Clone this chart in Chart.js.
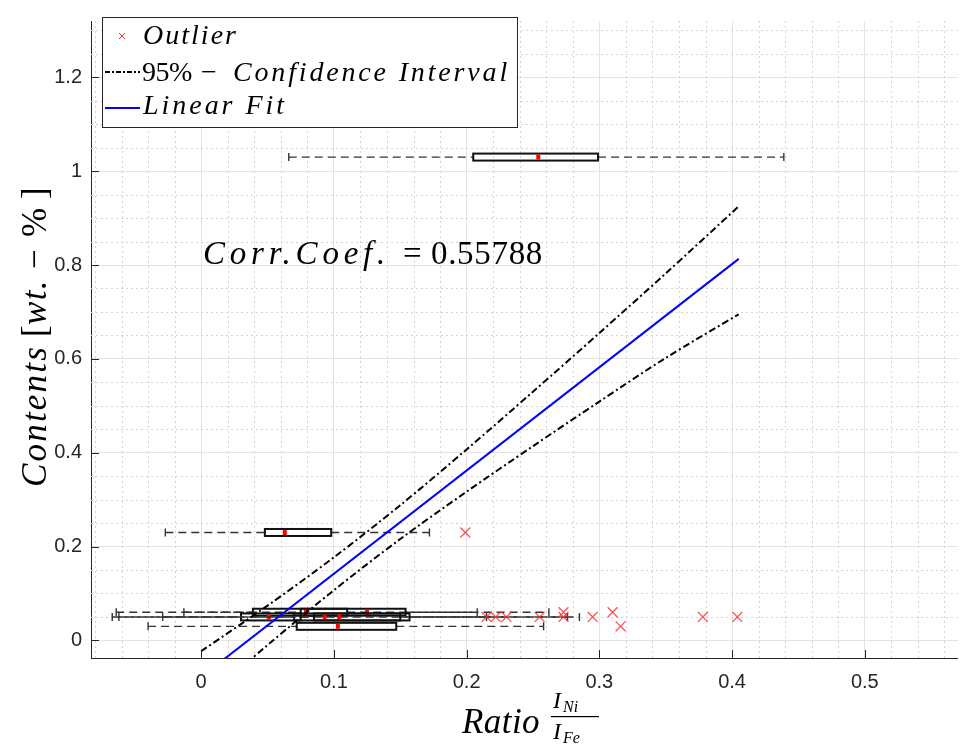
<!DOCTYPE html>
<html>
<head>
<meta charset="utf-8">
<script src="https://cdn.jsdelivr.net/npm/chart.js@4.4.0/dist/chart.umd.min.js"></script>
<style>
  html, body { margin: 0; padding: 0; background: #fff; }
  #wrap { width: 966px; height: 746px; }
</style>
</head>
<body>
<div id="wrap"><canvas id="boxChart" width="966" height="746"></canvas></div>
<script>
// outliers (red crosses)
var outlierX = [0.199, 0.215, 0.222, 0.230, 0.255, 0.273, 0.273, 0.295, 0.310, 0.316, 0.378, 0.404];
var outlierY = [0.23, 0.05, 0.05, 0.05, 0.05, 0.06, 0.05, 0.05, 0.06, 0.03, 0.05, 0.05];

// horizontal box plots: row height, whisker ends, quartiles, median
var boxY   = [1.03, 0.23, 0.06, 0.06, 0.05, 0.05, 0.05, 0.03];
var boxLo  = [0.066, -0.027, -0.064, -0.013, -0.067, -0.029, -0.062, -0.040];
var boxQ1  = [0.205, 0.048, 0.039, 0.075, 0.030, 0.070, 0.085, 0.072];
var boxMed = [0.254, 0.063, 0.079, 0.125, 0.051, 0.093, 0.104, 0.103];
var boxQ3  = [0.299, 0.098, 0.110, 0.154, 0.075, 0.157, 0.150, 0.147];
var boxHi  = [0.439, 0.172, 0.208, 0.262, 0.276, 0.285, 0.215, 0.258];

// linear fit and 95% band
var fitX = [0, 0.405];
var fitY = [-0.078, 0.813];
var bandX = [0, 0.05, 0.1, 0.15, 0.2, 0.25, 0.3, 0.35, 0.405];
var bandUpper = [-0.023, 0.074, 0.177, 0.288, 0.407, 0.530, 0.655, 0.782, 0.925];
var bandLower = [-0.133, -0.010, 0.107, 0.216, 0.317, 0.414, 0.509, 0.602, 0.695];

var xTicks = [0, 0.1, 0.2, 0.3, 0.4, 0.5];
var yTicks = [0, 0.2, 0.4, 0.6, 0.8, 1, 1.2];

var corrText = 'Corr.Coef.';
var corrValue = '0.55788';

function pts(xs, ys) {
    return xs.map(function (x, i) { return { x: x, y: ys[i] }; });
}

var axisColor = '#262626';
var serifI = function (s) { return 'italic ' + s + 'px "Liberation Serif"'; };
var serifR = function (s) { return s + 'px "Liberation Serif"'; };

// each part: [text, font, left x, width it should fill (0 = natural)]
function richText(ctx, parts, y) {
    parts.forEach(function (p) {
        ctx.font = p[1];
        ctx.letterSpacing = '0px';
        var sp = 0;
        if (p[3]) sp = (p[3] - ctx.measureText(p[0]).width) / p[0].length;
        ctx.letterSpacing = sp + 'px';
        ctx.fillText(p[0], p[2], y);
    });
    ctx.letterSpacing = '0px';
}

var matlabLook = {
    id: 'matlabLook',
    beforeDatasetsDraw: function (chart) {
        var ctx = chart.ctx, xs = chart.scales.x, ys = chart.scales.y, a = chart.chartArea;
        ctx.save();
        ctx.beginPath();
        ctx.rect(a.left, a.top, a.right - a.left, a.bottom - a.top);
        ctx.clip();

        // minor grid
        ctx.strokeStyle = '#d4d4d4';
        ctx.lineWidth = 1;
        ctx.setLineDash([2, 3]);
        for (var k = -4; k <= 28; k++) {
            if (k % 5 === 0) continue;
            var px = Math.round(xs.getPixelForValue(k * 0.02)) + 0.5;
            if (px <= a.left + 1 || px >= a.right) continue;
            ctx.beginPath(); ctx.moveTo(px, a.top); ctx.lineTo(px, a.bottom); ctx.stroke();
        }
        for (var j = 1; j <= 26; j++) {
            if (j % 4 === 0) continue;
            var py = Math.round(ys.getPixelForValue(j * 0.05)) + 0.5;
            if (py <= a.top || py >= a.bottom - 1) continue;
            ctx.beginPath(); ctx.moveTo(a.left, py); ctx.lineTo(a.right, py); ctx.stroke();
        }

        // box plots
        var h = 3.5;
        for (var i = 0; i < boxY.length; i++) {
            var y = ys.getPixelForValue(boxY[i]);
            var lo = xs.getPixelForValue(boxLo[i]), q1 = xs.getPixelForValue(boxQ1[i]);
            var md = xs.getPixelForValue(boxMed[i]), q3 = xs.getPixelForValue(boxQ3[i]);
            var hi = xs.getPixelForValue(boxHi[i]);
            ctx.strokeStyle = '#333';
            ctx.lineWidth = 1.4;
            ctx.setLineDash([8, 5]);
            ctx.beginPath();
            ctx.moveTo(lo, y); ctx.lineTo(q1, y);
            ctx.moveTo(q3, y); ctx.lineTo(hi, y);
            ctx.stroke();
            ctx.setLineDash([]);
            ctx.beginPath();
            ctx.moveTo(lo, y - 4); ctx.lineTo(lo, y + 4);
            ctx.moveTo(hi, y - 4); ctx.lineTo(hi, y + 4);
            ctx.stroke();
            ctx.lineWidth = 2;
            ctx.strokeStyle = '#111';
            ctx.strokeRect(q1, y - h, q3 - q1, 2 * h);
            ctx.fillStyle = '#ff0000';
            ctx.fillRect(md - 2, y - 2.5, 4, 5);
        }
        ctx.restore();
    },
    afterDraw: function (chart) {
        var ctx = chart.ctx, xs = chart.scales.x, ys = chart.scales.y, a = chart.chartArea;
        ctx.save();

        // inward tick marks
        ctx.strokeStyle = axisColor;
        ctx.lineWidth = 1;
        xTicks.forEach(function (v) {
            var px = Math.round(xs.getPixelForValue(v)) + 0.5;
            ctx.beginPath(); ctx.moveTo(px, a.bottom); ctx.lineTo(px, a.bottom - 8); ctx.stroke();
        });
        yTicks.forEach(function (v) {
            var py = Math.round(ys.getPixelForValue(v)) + 0.5;
            ctx.beginPath(); ctx.moveTo(a.left, py); ctx.lineTo(a.left + 8, py); ctx.stroke();
        });

        // legend box
        ctx.fillStyle = '#fff';
        ctx.fillRect(102, 17, 415, 110);
        ctx.strokeStyle = axisColor;
        ctx.lineWidth = 1;
        ctx.strokeRect(102.5, 17.5, 415, 110);
        ctx.strokeStyle = '#ff3030';
        ctx.beginPath();
        ctx.moveTo(119, 33); ctx.lineTo(125, 39);
        ctx.moveTo(125, 33); ctx.lineTo(119, 39);
        ctx.stroke();
        ctx.strokeStyle = '#000';
        ctx.lineWidth = 2;
        ctx.setLineDash([5, 2, 2, 2]);
        ctx.beginPath(); ctx.moveTo(105, 72); ctx.lineTo(140, 72); ctx.stroke();
        ctx.setLineDash([]);
        ctx.strokeStyle = '#0000ff';
        ctx.beginPath(); ctx.moveTo(105, 108); ctx.lineTo(140, 108); ctx.stroke();

        ctx.fillStyle = '#000';
        ctx.textBaseline = 'alphabetic';
        ctx.textAlign = 'left';
        richText(ctx, [['Outlier', serifI(28), 143, 95]], 44);
        richText(ctx, [['95%', serifR(28), 142, 50], ['\u2212', serifR(28), 201, 0],
                       ['Confidence Interval', serifI(28), 233, 277]], 81);
        richText(ctx, [['Linear Fit', serifI(28), 143, 144]], 114);

        // correlation annotation
        richText(ctx, [[corrText, serifI(33), 203, 187], ['=', serifR(33), 403, 0],
                       [corrValue, serifR(33), 431, 112]], 264);

        // x-axis title
        richText(ctx, [['Ratio', serifI(35), 462, 78]], 733);
        richText(ctx, [['I', serifI(24), 553, 0]], 708);
        richText(ctx, [['Ni', serifI(16), 563, 0]], 712);
        ctx.fillRect(551, 716, 48, 1.2);
        richText(ctx, [['I', serifI(24), 553, 0]], 739);
        richText(ctx, [['Fe', serifI(16), 563, 0]], 743);

        // y-axis title, written bottom to top
        ctx.translate(46, 487);
        ctx.rotate(-Math.PI / 2);
        richText(ctx, [['Contents', serifI(35), 0, 142], ['[', serifR(35), 150, 0],
                       ['wt.', serifI(35), 162, 46], ['\u2212', serifR(35), 218, 0],
                       ['%', serifR(35), 250, 0], [']', serifR(35), 288, 0]], 0);
        ctx.restore();
    }
};

var ctx = document.getElementById('boxChart').getContext('2d');
var boxChart = new Chart(ctx, {
    type: 'scatter',
    data: {
        datasets: [{
            label: 'Outlier',
            data: pts(outlierX, outlierY),
            pointStyle: 'crossRot',
            pointRadius: 7,
            pointHoverRadius: 7,
            borderColor: 'rgba(255, 40, 40, 0.8)',
            pointBorderWidth: 1.3,
            showLine: false
        }, {
            label: '95% - Confidence Interval',
            data: pts(bandX, bandUpper),
            showLine: true,
            borderColor: '#000',
            borderWidth: 2,
            borderDash: [7, 3, 2, 3],
            pointRadius: 0,
            tension: 0.3
        }, {
            label: 'lower',
            data: pts(bandX, bandLower),
            showLine: true,
            borderColor: '#000',
            borderWidth: 2,
            borderDash: [7, 3, 2, 3],
            pointRadius: 0,
            tension: 0.3
        }, {
            label: 'Linear Fit',
            data: pts(fitX, fitY),
            showLine: true,
            borderColor: '#0000ff',
            borderWidth: 2,
            pointRadius: 0
        }]
    },
    options: {
        responsive: false,
        animation: false,
        events: [],
        layout: { padding: { top: 5, left: 0, right: 0, bottom: 0 } },
        plugins: {
            legend: { display: false },
            tooltip: { enabled: false }
        },
        scales: {
            x: {
                type: 'linear',
                min: -0.083,
                max: 0.57,
                afterBuildTicks: function (s) { s.ticks = xTicks.map(function (v) { return { value: v }; }); },
                afterFit: function (s) { s.height = 88; },
                ticks: {
                    padding: 12,
                    color: axisColor,
                    font: { family: '"Liberation Sans"', size: 20 },
                    callback: function (v) { return String(Math.round(v * 10) / 10); }
                },
                grid: { color: '#e3e3e3', drawTicks: false },
                border: { color: axisColor, width: 1 }
            },
            y: {
                min: -0.0375,
                max: 1.32,
                afterBuildTicks: function (s) { s.ticks = yTicks.map(function (v) { return { value: v }; }); },
                afterFit: function (s) { s.width = 91; },
                ticks: {
                    padding: 9,
                    color: axisColor,
                    font: { family: '"Liberation Sans"', size: 20 },
                    callback: function (v) { return String(Math.round(v * 10) / 10); }
                },
                grid: { color: '#e3e3e3', drawTicks: false },
                border: { color: axisColor, width: 1 }
            }
        }
    },
    plugins: [matlabLook]
});
</script>
</body>
</html>
